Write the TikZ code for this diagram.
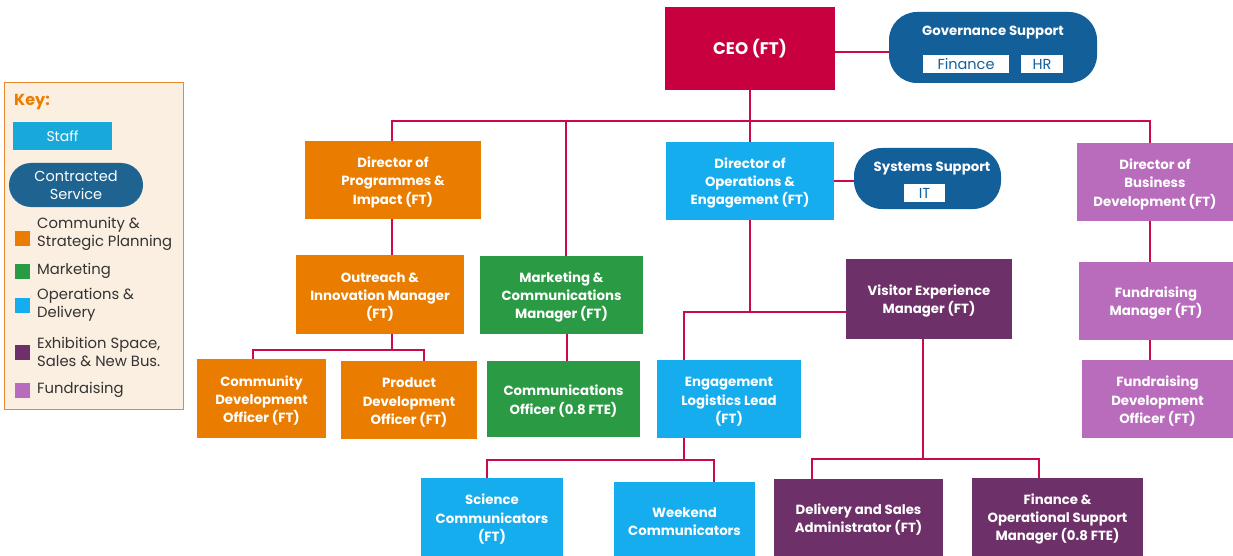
\documentclass[tikz,border=0pt]{standalone}
\usepackage{fontspec}
\setmainfont{Poppins}
\usetikzlibrary{backgrounds,calc}
\newcommand{\TS}{\rule{0pt}{15pt}}
\definecolor{crim}{HTML}{C8003F}
\definecolor{lnk}{HTML}{CC0A4A}
\definecolor{orng}{HTML}{EA7D00}
\definecolor{grn}{HTML}{2B9A44}
\definecolor{lblue}{HTML}{15ADEE}
\definecolor{dpurp}{HTML}{6D3069}
\definecolor{orch}{HTML}{B86CBB}
\definecolor{navy}{HTML}{135F9A}
\definecolor{knavy}{HTML}{1F6391}
\definecolor{kstaff}{HTML}{18A9DB}
\definecolor{keybg}{HTML}{FBEFE1}
\definecolor{keyln}{HTML}{E9892E}
\definecolor{ktxt}{HTML}{333333}
\tikzset{
  box/.style={draw=none, align=center, text=white, inner sep=0pt,
    font=\bfseries\fontsize{13.3}{18.3}\selectfont},
  sz/.style 2 args={minimum width=#1pt, minimum height=#2pt},
  pill/.style={box, rounded corners=28pt, fill=navy},
  wbox/.style={fill=white, text=navy, inner sep=0pt, font=\fontsize{14.5}{16}\selectfont},
  link/.style={draw=lnk, line width=1.8pt},
  ksq/.style={minimum width=15pt, minimum height=15pt, inner sep=0pt},
  ktext/.style={anchor=west, align=left, text=ktxt, inner sep=0pt, font=\fontsize{14.8}{18.3}\selectfont},
}
\begin{document}
\begin{tikzpicture}[x=1pt,y=-1pt]
\useasboundingbox (0,0) rectangle (1233,556);
% key
\node[sz={179}{326}, fill=keybg, draw=keyln, line width=1pt, inner sep=0pt] (key) at (93.5,246) {};
\node[anchor=west, text=orng, inner sep=0pt, font=\bfseries\fontsize{16}{18}\selectfont] (keyt) at (14,102) {Key:};
\node[sz={99}{28}, fill=kstaff, text=white, inner sep=0pt, font=\fontsize{14}{16}\selectfont] (kstaffb) at (62.5,136) {Staff};
\node[sz={134}{44}, rounded corners=22pt, fill=knavy, text=white, align=center, inner sep=0pt, font=\fontsize{14.5}{18.5}\selectfont] (kcon) at (76,185) {Contracted\\Service};
\node[ksq, fill=orng] (sq1) at (22.5,238) {};
\node[ksq, fill=grn] (sq2) at (22.5,271.5) {};
\node[ksq, fill=lblue] (sq3) at (22.5,305.5) {};
\node[ksq, fill=dpurp] (sq4) at (22.5,352) {};
\node[ksq, fill=orch] (sq5) at (22.5,390) {};
\node[ktext] (kt1) at (37,234) {Community \&\\Strategic Planning};
\node[ktext] (kt2) at (37,271) {Marketing};
\node[ktext] (kt3) at (37,305) {Operations \&\\Delivery};
\node[ktext] (kt4) at (37,352) {Exhibition Space,\\Sales \& New Bus.};
\node[ktext] (kt5) at (37,390) {Fundraising};
% top
\node[box, sz={170}{83}, fill=crim, font=\bfseries\fontsize{16.8}{19}\selectfont] (ceo) at (750,48.5) {CEO (FT)};
\node[pill, sz={208}{71}] (gov) at (993,47.5) {};
\node[box] (govt) at (993,32.5) {Governance Support};
\node[wbox, sz={86}{18}] (fin) at (966,64) {Finance};
\node[wbox, sz={42}{18}] (hr) at (1042,64) {HR};
% directors
\node[box, sz={176}{78}, fill=orng] (dprog) at (393,180) {\TS Director of\\Programmes \&\\Impact (FT)};
\node[box, sz={168}{78}, fill=lblue] (dops) at (750,181) {\TS Director of\\Operations \&\\Engagement (FT)};
\node[pill, sz={147}{61}] (sys) at (927.5,178.5) {};
\node[box] (syst) at (932,168.5) {Systems Support};
\node[wbox, sz={41}{18}] (it) at (924.5,193) {IT};
\node[box, sz={156}{78}, fill=orch] (dbus) at (1155,182) {\TS Director of\\Business\\Development (FT)};
% level 2
\node[box, sz={168}{79}, fill=orng] (outr) at (380,294.5) {\TS Outreach \&\\Innovation Manager\\(FT)};
\node[box, sz={163}{78}, fill=grn] (mktg) at (561.5,295) {\TS Marketing \&\\Communications\\Manager (FT)};
\node[box, sz={166}{80}, fill=dpurp] (vis) at (929,299) {\TS Visitor Experience\\Manager (FT)};
\node[box, sz={154}{78}, fill=orch] (fman) at (1156,301) {\TS Fundraising\\Manager (FT)};
% level 3
\node[box, sz={129}{79}, fill=orng] (cdo) at (261.5,398.5) {\TS Community\\Development\\Officer (FT)};
\node[box, sz={136}{78}, fill=orng] (pdo) at (409,400) {\TS Product\\Development\\Officer (FT)};
\node[box, sz={153}{76}, fill=grn] (coff) at (563.5,399) {\TS Communications\\Officer (0.8 FTE)};
\node[box, sz={144}{78}, fill=lblue] (elog) at (729,399) {\TS Engagement\\Logistics Lead\\(FT)};
\node[box, sz={151}{78}, fill=orch] (fdev) at (1157.5,399) {\TS Fundraising\\Development\\Officer (FT)};
% level 4
\node[box, sz={142}{78}, fill=lblue] (sci) at (492,517) {\TS Science\\Communicators\\(FT)};
\node[box, sz={141}{74}, fill=lblue] (wkd) at (684.5,519) {\TS Weekend\\Communicators};
\node[box, sz={169}{77}, fill=dpurp] (dsa) at (858.5,517.5) {\TS Delivery and Sales\\Administrator (FT)};
\node[box, sz={171}{78}, fill=dpurp] (fos) at (1057.5,517) {\TS Finance \&\\Operational Support\\Manager (0.8 FTE)};
% connectors
\begin{scope}[on background layer]
\fill[white] (0,0) rectangle (1233,556);
\coordinate (bus) at (0,121);
\draw[link] (ceo.east |- {(0,52)}) -- (gov.west |- {(0,52)});
\draw[link] (ceo.south) -- (ceo.south |- bus);
\draw[link] (dprog.north -| {(392,0)}) -- ({(392,0)} |- bus) -| (dbus.north -| {(1150,0)});
\draw[link] ({(566,0)} |- bus) -- (mktg.north -| {(566,0)});
\draw[link] (dops.north) -- (dops.north |- bus);
\draw[link] (dops.east |- {(0,181)}) -- (sys.west |- {(0,181)});
\draw[link] (dprog.south -| {(392,0)}) -- (outr.north -| {(392,0)});
\draw[link] (outr.south -| {(392,0)}) -- ({(392,0)} |- {(0,350)});
\draw[link] (cdo.north -| {(253,0)}) |- ({(424,0)} |- {(0,350)}) -- (pdo.north -| {(424,0)});
\draw[link] (mktg.south -| {(567,0)}) -- (coff.north -| {(567,0)});
\draw[link] (dops.south) -- (dops.south |- {(0,312)});
\draw[link] (elog.north -| {(684,0)}) |- (vis.west |- {(0,312)});
\draw[link] (elog.south -| {(684,0)}) -- ({(684,0)} |- {(0,460)});
\draw[link] (sci.north -| {(487,0)}) |- ({(714,0)} |- {(0,460)}) -- (wkd.north -| {(714,0)});
\draw[link] (vis.south -| {(923,0)}) -- ({(923,0)} |- {(0,459)});
\draw[link] (dsa.north -| {(812,0)}) |- ({(1039,0)} |- {(0,459)}) -- (fos.north -| {(1039,0)});
\draw[link] (dbus.south -| {(1150,0)}) -- (fman.north -| {(1150,0)});
\draw[link] (fman.south -| {(1150,0)}) -- (fdev.north -| {(1150,0)});
\end{scope}
\end{tikzpicture}
\end{document}
